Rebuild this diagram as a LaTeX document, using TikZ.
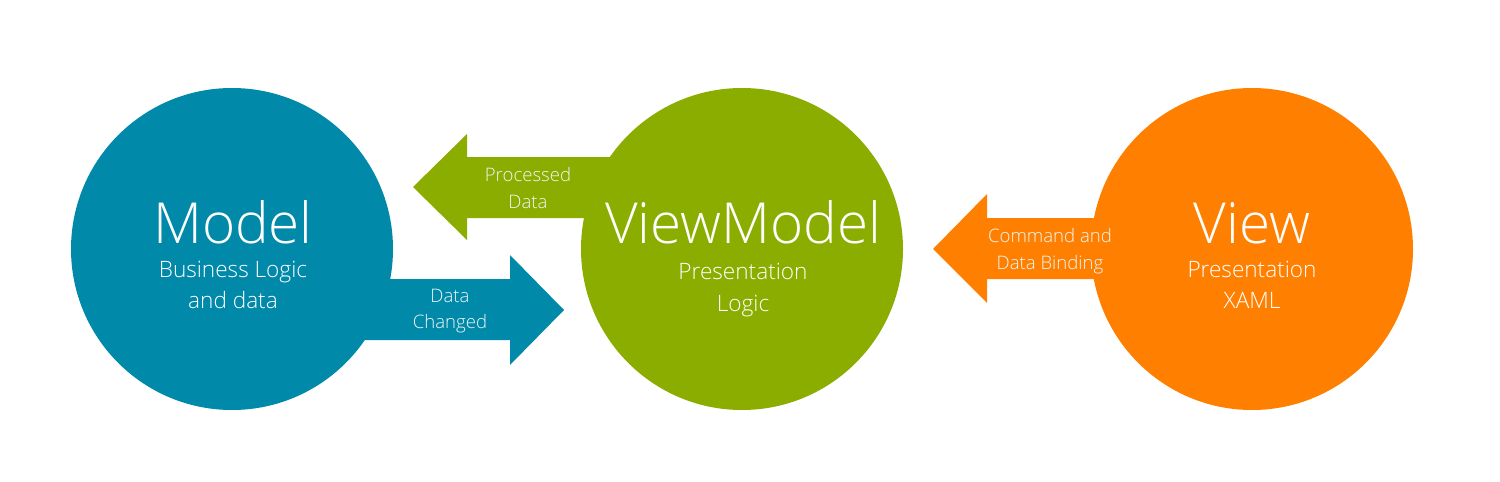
\documentclass[tikz,border=0pt]{standalone}
\usepackage{fontspec}
\setmainfont{Open Sans Light}
\usetikzlibrary{positioning}
\definecolor{modelblue}{RGB}{0,137,168}
\definecolor{vmgreen}{RGB}{139,173,0}
\definecolor{vieworange}{RGB}{255,128,0}
\definecolor{labelwhite}{RGB}{240,246,246}
\tikzset{
  bubble/.style={circle, minimum size=161pt, inner sep=0pt},
  title/.style={anchor=base, text=white, inner sep=0pt,
    font=\fontsize{28.3}{29}\selectfont},
  subline/.style={anchor=base, text=white, inner sep=0pt,
    font=\fontsize{11.3}{13}\selectfont},
  taglabel/.style={anchor=base, text=labelwhite, inner sep=0pt,
    font=\fontsize{9.3}{11}\selectfont}
}

\begin{document}
\begin{tikzpicture}[x=0.5pt, y=-0.5pt]
  \useasboundingbox (0,0) rectangle (1500,482);

  % Arrows
  \fill[vmgreen] (413,187) -- (467,134) -- (467,157) -- (640,157)
    -- (640,218) -- (467,218) -- (467,240) -- cycle;
  \fill[modelblue] (564,310) -- (510,255) -- (510,279) -- (330,279)
    -- (330,340) -- (510,340) -- (510,365) -- cycle;
  \fill[vieworange] (933,249) -- (987,194) -- (987,218) -- (1150,218)
    -- (1150,279) -- (987,279) -- (987,303) -- cycle;

  % Circles
  \node[bubble, fill=modelblue] (model) at (232,249) {};
  \node[bubble, fill=vmgreen] (viewmodel) at (742,249) {};
  \node[bubble, fill=vieworange] (view) at (1252,249) {};

  % Circle texts
  \node[title] (model-title) at (233,243) {Model};
  \node[subline] (model-l1) at (233,277) {Business Logic};
  \node[subline] (model-l2) at (233,308) {and data};

  \node[title] (viewmodel-title) at (743,243) {ViewModel};
  \node[subline] (viewmodel-l1) at (743,279) {Presentation};
  \node[subline] (viewmodel-l2) at (743,311) {Logic};

  \node[title] (view-title) at (1252,243) {View};
  \node[subline] (view-l1) at (1252,277) {Presentation};
  \node[subline] (view-l2) at (1252,308) {XAML};

  % Arrow labels
  \node[taglabel] (processed-l1) at (528,181) {Processed};
  \node[taglabel] (processed-l2) at (528,208) {Data};
  \node[taglabel] (changed-l1) at (450,302) {Data};
  \node[taglabel] (changed-l2) at (450,328) {Changed};
  \node[taglabel] (binding-l1) at (1050,242) {Command and};
  \node[taglabel] (binding-l2) at (1050,269) {Data Binding};
\end{tikzpicture}
\end{document}
